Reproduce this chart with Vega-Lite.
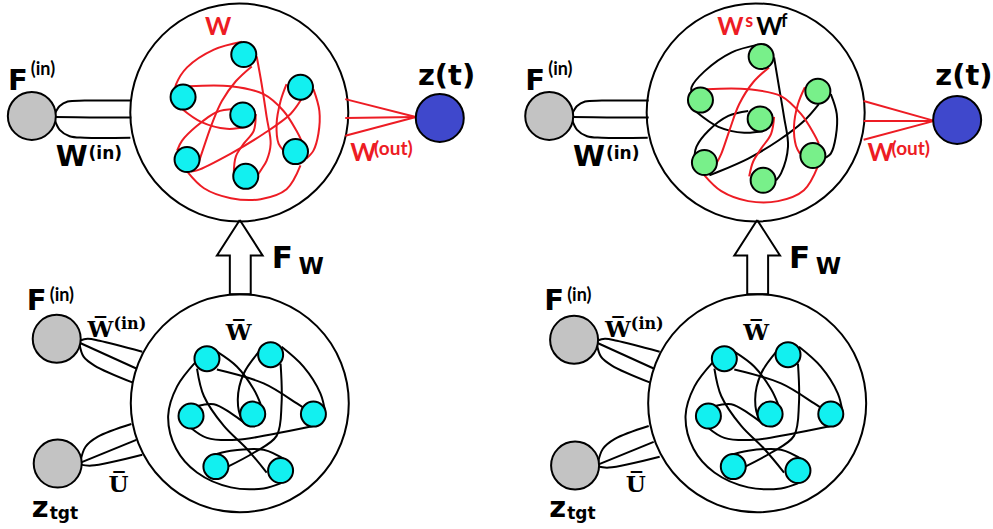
{
  "$schema": "https://vega.github.io/schema/vega-lite/v6.json",
  "width": 993,
  "height": 529,
  "padding": 0,
  "autosize": {"type": "fit", "contains": "padding"},
  "background": "white",
  "config": {"view": {"stroke": null}},
  "datasets": {
    "rings": [
      {"x": 240.5, "y": 108.5}, {"x": 241, "y": 402},
      {"x": 759.5, "y": 108.5}, {"x": 761, "y": 402}
    ],
    "nodes": [
      {"x": 245, "y": 50, "t": "cyan"}, {"x": 302, "y": 83, "t": "cyan"}, {"x": 184, "y": 93, "t": "cyan"}, {"x": 244, "y": 111, "t": "cyan"}, {"x": 188, "y": 156, "t": "cyan"}, {"x": 297, "y": 148, "t": "cyan"}, {"x": 247, "y": 173, "t": "cyan"},
      {"x": 765, "y": 52, "t": "green"}, {"x": 822, "y": 87, "t": "green"}, {"x": 704, "y": 96, "t": "green"}, {"x": 764, "y": 115, "t": "green"}, {"x": 708, "y": 159, "t": "green"}, {"x": 817, "y": 152, "t": "green"}, {"x": 767, "y": 177, "t": "green"},
      {"x": 208, "y": 357, "t": "cyan"}, {"x": 272, "y": 353, "t": "cyan"}, {"x": 192, "y": 415, "t": "cyan"}, {"x": 254, "y": 413, "t": "cyan"}, {"x": 315, "y": 413, "t": "cyan"}, {"x": 217, "y": 466, "t": "cyan"}, {"x": 282, "y": 470, "t": "cyan"},
      {"x": 728, "y": 357, "t": "cyan"}, {"x": 792, "y": 353, "t": "cyan"}, {"x": 712, "y": 415, "t": "cyan"}, {"x": 774, "y": 413, "t": "cyan"}, {"x": 835, "y": 413, "t": "cyan"}, {"x": 737, "y": 466, "t": "cyan"}, {"x": 802, "y": 470, "t": "cyan"}
    ],
    "io": [
      {"x": 32, "y": 112, "t": "gray"}, {"x": 552, "y": 112, "t": "gray"},
      {"x": 57, "y": 337, "t": "gray"}, {"x": 577, "y": 338, "t": "gray"},
      {"x": 58, "y": 463, "t": "gray"}, {"x": 578, "y": 465, "t": "gray"},
      {"x": 442, "y": 114, "t": "blue"}, {"x": 962, "y": 116, "t": "blue"}
    ],
    "curves": [
      {"g": "e1", "i": 0, "x": 243, "y": 37, "t": "r"}, {"g": "e1", "i": 1, "x": 215, "y": 45, "t": "r"}, {"g": "e1", "i": 2, "x": 188, "y": 63, "t": "r"}, {"g": "e1", "i": 3, "x": 177, "y": 80, "t": "r"}, {"g": "e1", "i": 4, "x": 176, "y": 85, "t": "r"},
      {"g": "e2", "i": 0, "x": 253, "y": 62, "t": "r"}, {"g": "e2", "i": 1, "x": 237, "y": 77, "t": "r"}, {"g": "e2", "i": 2, "x": 223, "y": 97, "t": "r"}, {"g": "e2", "i": 3, "x": 213, "y": 120, "t": "r"}, {"g": "e2", "i": 4, "x": 205, "y": 143, "t": "r"}, {"g": "e2", "i": 5, "x": 200, "y": 158, "t": "r"},
      {"g": "e3", "i": 0, "x": 258, "y": 52, "t": "r"}, {"g": "e3", "i": 1, "x": 263, "y": 80, "t": "r"}, {"g": "e3", "i": 2, "x": 268, "y": 113, "t": "r"}, {"g": "e3", "i": 3, "x": 272, "y": 140, "t": "r"}, {"g": "e3", "i": 4, "x": 268, "y": 157, "t": "r"}, {"g": "e3", "i": 5, "x": 262, "y": 167, "t": "r"}, {"g": "e3", "i": 6, "x": 258, "y": 173, "t": "r"},
      {"g": "e4", "i": 0, "x": 190, "y": 82, "t": "r"}, {"g": "e4", "i": 1, "x": 232, "y": 82, "t": "r"}, {"g": "e4", "i": 2, "x": 265, "y": 90, "t": "r"}, {"g": "e4", "i": 3, "x": 285, "y": 107, "t": "r"}, {"g": "e4", "i": 4, "x": 298, "y": 127, "t": "r"}, {"g": "e4", "i": 5, "x": 303, "y": 137, "t": "r"},
      {"g": "e5", "i": 0, "x": 183, "y": 105, "t": "r"}, {"g": "e5", "i": 1, "x": 202, "y": 118, "t": "r"}, {"g": "e5", "i": 2, "x": 228, "y": 125, "t": "r"}, {"g": "e5", "i": 3, "x": 248, "y": 123, "t": "r"},
      {"g": "e6", "i": 0, "x": 235, "y": 105, "t": "r"}, {"g": "e6", "i": 1, "x": 218, "y": 108, "t": "r"}, {"g": "e6", "i": 2, "x": 198, "y": 122, "t": "r"}, {"g": "e6", "i": 3, "x": 183, "y": 137, "t": "r"}, {"g": "e6", "i": 4, "x": 178, "y": 147, "t": "r"},
      {"g": "e7", "i": 0, "x": 257, "y": 110, "t": "r"}, {"g": "e7", "i": 1, "x": 255, "y": 127, "t": "r"}, {"g": "e7", "i": 2, "x": 245, "y": 140, "t": "r"}, {"g": "e7", "i": 3, "x": 237, "y": 153, "t": "r"}, {"g": "e7", "i": 4, "x": 235, "y": 170, "t": "r"},
      {"g": "e8", "i": 0, "x": 303, "y": 95, "t": "r"}, {"g": "e8", "i": 1, "x": 292, "y": 110, "t": "r"}, {"g": "e8", "i": 2, "x": 265, "y": 130, "t": "r"}, {"g": "e8", "i": 3, "x": 232, "y": 150, "t": "r"}, {"g": "e8", "i": 4, "x": 198, "y": 167, "t": "r"}, {"g": "e8", "i": 5, "x": 192, "y": 168, "t": "r"},
      {"g": "e9", "i": 0, "x": 288, "y": 80, "t": "r"}, {"g": "e9", "i": 1, "x": 282, "y": 97, "t": "r"}, {"g": "e9", "i": 2, "x": 278, "y": 120, "t": "r"}, {"g": "e9", "i": 3, "x": 280, "y": 140, "t": "r"}, {"g": "e9", "i": 4, "x": 285, "y": 147, "t": "r"},
      {"g": "e10", "i": 0, "x": 315, "y": 85, "t": "r"}, {"g": "e10", "i": 1, "x": 321, "y": 107, "t": "r"}, {"g": "e10", "i": 2, "x": 320, "y": 130, "t": "r"}, {"g": "e10", "i": 3, "x": 315, "y": 147, "t": "r"}, {"g": "e10", "i": 4, "x": 308, "y": 155, "t": "r"},
      {"g": "e11", "i": 0, "x": 188, "y": 168, "t": "r"}, {"g": "e11", "i": 1, "x": 205, "y": 185, "t": "r"}, {"g": "e11", "i": 2, "x": 232, "y": 195, "t": "r"}, {"g": "e11", "i": 3, "x": 262, "y": 196, "t": "r"}, {"g": "e11", "i": 4, "x": 288, "y": 186, "t": "r"}, {"g": "e11", "i": 5, "x": 302, "y": 162, "t": "r"},

      {"g": "ra", "i": 0, "x": 762, "y": 40, "t": "k"}, {"g": "ra", "i": 1, "x": 735, "y": 48, "t": "k"}, {"g": "ra", "i": 2, "x": 708, "y": 67, "t": "k"}, {"g": "ra", "i": 3, "x": 695, "y": 83, "t": "k"}, {"g": "ra", "i": 4, "x": 695, "y": 88, "t": "k"},
      {"g": "rb", "i": 0, "x": 778, "y": 53, "t": "k"}, {"g": "rb", "i": 1, "x": 783, "y": 83, "t": "k"}, {"g": "rb", "i": 2, "x": 788, "y": 113, "t": "k"}, {"g": "rb", "i": 3, "x": 792, "y": 143, "t": "k"}, {"g": "rb", "i": 4, "x": 785, "y": 170, "t": "k"}, {"g": "rb", "i": 5, "x": 780, "y": 177, "t": "k"},
      {"g": "rc", "i": 0, "x": 700, "y": 108, "t": "k"}, {"g": "rc", "i": 1, "x": 722, "y": 123, "t": "k"}, {"g": "rc", "i": 2, "x": 748, "y": 129, "t": "k"}, {"g": "rc", "i": 3, "x": 768, "y": 127, "t": "k"},
      {"g": "rd", "i": 0, "x": 752, "y": 107, "t": "k"}, {"g": "rd", "i": 1, "x": 732, "y": 112, "t": "k"}, {"g": "rd", "i": 2, "x": 712, "y": 127, "t": "k"}, {"g": "rd", "i": 3, "x": 700, "y": 143, "t": "k"}, {"g": "rd", "i": 4, "x": 698, "y": 152, "t": "k"},
      {"g": "re", "i": 0, "x": 823, "y": 100, "t": "k"}, {"g": "re", "i": 1, "x": 808, "y": 117, "t": "k"}, {"g": "re", "i": 2, "x": 782, "y": 137, "t": "k"}, {"g": "re", "i": 3, "x": 752, "y": 155, "t": "k"}, {"g": "re", "i": 4, "x": 718, "y": 170, "t": "k"}, {"g": "re", "i": 5, "x": 713, "y": 172, "t": "k"},
      {"g": "rf", "i": 0, "x": 835, "y": 90, "t": "k"}, {"g": "rf", "i": 1, "x": 841, "y": 110, "t": "k"}, {"g": "rf", "i": 2, "x": 840, "y": 133, "t": "k"}, {"g": "rf", "i": 3, "x": 835, "y": 150, "t": "k"}, {"g": "rf", "i": 4, "x": 830, "y": 154, "t": "k"},
      {"g": "rg", "i": 0, "x": 773, "y": 63, "t": "r"}, {"g": "rg", "i": 1, "x": 757, "y": 78, "t": "r"}, {"g": "rg", "i": 2, "x": 743, "y": 100, "t": "r"}, {"g": "rg", "i": 3, "x": 733, "y": 127, "t": "r"}, {"g": "rg", "i": 4, "x": 725, "y": 150, "t": "r"}, {"g": "rg", "i": 5, "x": 720, "y": 160, "t": "r"},
      {"g": "rh", "i": 0, "x": 710, "y": 85, "t": "r"}, {"g": "rh", "i": 1, "x": 752, "y": 85, "t": "r"}, {"g": "rh", "i": 2, "x": 785, "y": 92, "t": "r"}, {"g": "rh", "i": 3, "x": 805, "y": 110, "t": "r"}, {"g": "rh", "i": 4, "x": 818, "y": 130, "t": "r"}, {"g": "rh", "i": 5, "x": 823, "y": 140, "t": "r"},
      {"g": "ri", "i": 0, "x": 778, "y": 113, "t": "r"}, {"g": "ri", "i": 1, "x": 775, "y": 130, "t": "r"}, {"g": "ri", "i": 2, "x": 765, "y": 145, "t": "r"}, {"g": "ri", "i": 3, "x": 757, "y": 158, "t": "r"}, {"g": "ri", "i": 4, "x": 753, "y": 173, "t": "r"},
      {"g": "rj", "i": 0, "x": 809, "y": 83, "t": "r"}, {"g": "rj", "i": 1, "x": 802, "y": 100, "t": "r"}, {"g": "rj", "i": 2, "x": 798, "y": 123, "t": "r"}, {"g": "rj", "i": 3, "x": 800, "y": 142, "t": "r"}, {"g": "rj", "i": 4, "x": 804, "y": 150, "t": "r"},
      {"g": "rk", "i": 0, "x": 708, "y": 172, "t": "r"}, {"g": "rk", "i": 1, "x": 725, "y": 188, "t": "r"}, {"g": "rk", "i": 2, "x": 752, "y": 198, "t": "r"}, {"g": "rk", "i": 3, "x": 782, "y": 198, "t": "r"}, {"g": "rk", "i": 4, "x": 808, "y": 187, "t": "r"}, {"g": "rk", "i": 5, "x": 822, "y": 163, "t": "r"},

      {"g": "b1", "i": 0, "x": 197, "y": 360, "t": "k"}, {"g": "b1", "i": 1, "x": 178, "y": 385, "t": "k"}, {"g": "b1", "i": 2, "x": 169, "y": 415, "t": "k"}, {"g": "b1", "i": 3, "x": 177, "y": 448, "t": "k"}, {"g": "b1", "i": 4, "x": 198, "y": 472, "t": "k"}, {"g": "b1", "i": 5, "x": 232, "y": 487, "t": "k"}, {"g": "b1", "i": 6, "x": 265, "y": 488, "t": "k"}, {"g": "b1", "i": 7, "x": 282, "y": 483, "t": "k"},
      {"g": "b2", "i": 0, "x": 218, "y": 368, "t": "k"}, {"g": "b2", "i": 1, "x": 265, "y": 382, "t": "k"}, {"g": "b2", "i": 2, "x": 298, "y": 402, "t": "k"}, {"g": "b2", "i": 3, "x": 307, "y": 408, "t": "k"},
      {"g": "b3", "i": 0, "x": 198, "y": 367, "t": "k"}, {"g": "b3", "i": 1, "x": 205, "y": 395, "t": "k"}, {"g": "b3", "i": 2, "x": 225, "y": 425, "t": "k"}, {"g": "b3", "i": 3, "x": 248, "y": 448, "t": "k"}, {"g": "b3", "i": 4, "x": 268, "y": 472, "t": "k"},
      {"g": "b4", "i": 0, "x": 218, "y": 350, "t": "k"}, {"g": "b4", "i": 1, "x": 238, "y": 365, "t": "k"}, {"g": "b4", "i": 2, "x": 255, "y": 388, "t": "k"}, {"g": "b4", "i": 3, "x": 262, "y": 403, "t": "k"},
      {"g": "b5", "i": 0, "x": 262, "y": 348, "t": "k"}, {"g": "b5", "i": 1, "x": 245, "y": 372, "t": "k"}, {"g": "b5", "i": 2, "x": 239, "y": 398, "t": "k"}, {"g": "b5", "i": 3, "x": 243, "y": 418, "t": "k"}, {"g": "b5", "i": 4, "x": 248, "y": 423, "t": "k"},
      {"g": "b6", "i": 0, "x": 283, "y": 345, "t": "k"}, {"g": "b6", "i": 1, "x": 305, "y": 365, "t": "k"}, {"g": "b6", "i": 2, "x": 322, "y": 392, "t": "k"}, {"g": "b6", "i": 3, "x": 327, "y": 412, "t": "k"},
      {"g": "b7", "i": 0, "x": 282, "y": 362, "t": "k"}, {"g": "b7", "i": 1, "x": 283, "y": 402, "t": "k"}, {"g": "b7", "i": 2, "x": 278, "y": 435, "t": "k"}, {"g": "b7", "i": 3, "x": 255, "y": 452, "t": "k"}, {"g": "b7", "i": 4, "x": 227, "y": 467, "t": "k"},
      {"g": "b8", "i": 0, "x": 198, "y": 405, "t": "k"}, {"g": "b8", "i": 1, "x": 215, "y": 403, "t": "k"}, {"g": "b8", "i": 2, "x": 232, "y": 412, "t": "k"}, {"g": "b8", "i": 3, "x": 247, "y": 423, "t": "k"},
      {"g": "b9", "i": 0, "x": 192, "y": 427, "t": "k"}, {"g": "b9", "i": 1, "x": 208, "y": 437, "t": "k"}, {"g": "b9", "i": 2, "x": 238, "y": 439, "t": "k"}, {"g": "b9", "i": 3, "x": 275, "y": 433, "t": "k"}, {"g": "b9", "i": 4, "x": 315, "y": 425, "t": "k"},
      {"g": "b10", "i": 0, "x": 212, "y": 455, "t": "k"}, {"g": "b10", "i": 1, "x": 232, "y": 450, "t": "k"}, {"g": "b10", "i": 2, "x": 265, "y": 449, "t": "k"}, {"g": "b10", "i": 3, "x": 288, "y": 460, "t": "k"},

      {"g": "q1", "i": 0, "x": 717, "y": 360, "t": "k"}, {"g": "q1", "i": 1, "x": 698, "y": 385, "t": "k"}, {"g": "q1", "i": 2, "x": 689, "y": 415, "t": "k"}, {"g": "q1", "i": 3, "x": 697, "y": 448, "t": "k"}, {"g": "q1", "i": 4, "x": 718, "y": 472, "t": "k"}, {"g": "q1", "i": 5, "x": 752, "y": 487, "t": "k"}, {"g": "q1", "i": 6, "x": 785, "y": 488, "t": "k"}, {"g": "q1", "i": 7, "x": 802, "y": 483, "t": "k"},
      {"g": "q2", "i": 0, "x": 738, "y": 368, "t": "k"}, {"g": "q2", "i": 1, "x": 785, "y": 382, "t": "k"}, {"g": "q2", "i": 2, "x": 818, "y": 402, "t": "k"}, {"g": "q2", "i": 3, "x": 827, "y": 408, "t": "k"},
      {"g": "q3", "i": 0, "x": 718, "y": 367, "t": "k"}, {"g": "q3", "i": 1, "x": 725, "y": 395, "t": "k"}, {"g": "q3", "i": 2, "x": 745, "y": 425, "t": "k"}, {"g": "q3", "i": 3, "x": 768, "y": 448, "t": "k"}, {"g": "q3", "i": 4, "x": 788, "y": 472, "t": "k"},
      {"g": "q4", "i": 0, "x": 738, "y": 350, "t": "k"}, {"g": "q4", "i": 1, "x": 758, "y": 365, "t": "k"}, {"g": "q4", "i": 2, "x": 775, "y": 388, "t": "k"}, {"g": "q4", "i": 3, "x": 782, "y": 403, "t": "k"},
      {"g": "q5", "i": 0, "x": 782, "y": 348, "t": "k"}, {"g": "q5", "i": 1, "x": 765, "y": 372, "t": "k"}, {"g": "q5", "i": 2, "x": 759, "y": 398, "t": "k"}, {"g": "q5", "i": 3, "x": 763, "y": 418, "t": "k"}, {"g": "q5", "i": 4, "x": 768, "y": 423, "t": "k"},
      {"g": "q6", "i": 0, "x": 803, "y": 345, "t": "k"}, {"g": "q6", "i": 1, "x": 825, "y": 365, "t": "k"}, {"g": "q6", "i": 2, "x": 842, "y": 392, "t": "k"}, {"g": "q6", "i": 3, "x": 847, "y": 412, "t": "k"},
      {"g": "q7", "i": 0, "x": 802, "y": 362, "t": "k"}, {"g": "q7", "i": 1, "x": 803, "y": 402, "t": "k"}, {"g": "q7", "i": 2, "x": 798, "y": 435, "t": "k"}, {"g": "q7", "i": 3, "x": 775, "y": 452, "t": "k"}, {"g": "q7", "i": 4, "x": 747, "y": 467, "t": "k"},
      {"g": "q8", "i": 0, "x": 718, "y": 405, "t": "k"}, {"g": "q8", "i": 1, "x": 735, "y": 403, "t": "k"}, {"g": "q8", "i": 2, "x": 752, "y": 412, "t": "k"}, {"g": "q8", "i": 3, "x": 767, "y": 423, "t": "k"},
      {"g": "q9", "i": 0, "x": 712, "y": 427, "t": "k"}, {"g": "q9", "i": 1, "x": 728, "y": 437, "t": "k"}, {"g": "q9", "i": 2, "x": 758, "y": 439, "t": "k"}, {"g": "q9", "i": 3, "x": 795, "y": 433, "t": "k"}, {"g": "q9", "i": 4, "x": 835, "y": 425, "t": "k"},
      {"g": "q10", "i": 0, "x": 732, "y": 455, "t": "k"}, {"g": "q10", "i": 1, "x": 752, "y": 450, "t": "k"}, {"g": "q10", "i": 2, "x": 785, "y": 449, "t": "k"}, {"g": "q10", "i": 3, "x": 808, "y": 460, "t": "k"},

      {"g": "c1", "i": 0, "x": 55, "y": 110, "t": "k"}, {"g": "c1", "i": 1, "x": 60, "y": 102, "t": "k"}, {"g": "c1", "i": 2, "x": 68, "y": 97.5, "t": "k"}, {"g": "c1", "i": 3, "x": 85, "y": 96.5, "t": "k"}, {"g": "c1", "i": 4, "x": 132, "y": 96.5, "t": "k"},
      {"g": "c2", "i": 0, "x": 55, "y": 113, "t": "k"}, {"g": "c2", "i": 1, "x": 90, "y": 113.5, "t": "k"}, {"g": "c2", "i": 2, "x": 132, "y": 113.5, "t": "k"},
      {"g": "c3", "i": 0, "x": 55, "y": 116, "t": "k"}, {"g": "c3", "i": 1, "x": 60, "y": 126, "t": "k"}, {"g": "c3", "i": 2, "x": 70, "y": 132.5, "t": "k"}, {"g": "c3", "i": 3, "x": 85, "y": 134, "t": "k"}, {"g": "c3", "i": 4, "x": 131, "y": 134, "t": "k"},
      {"g": "c4", "i": 0, "x": 80, "y": 339, "t": "k"}, {"g": "c4", "i": 1, "x": 88, "y": 337, "t": "k"}, {"g": "c4", "i": 2, "x": 100, "y": 339, "t": "k"}, {"g": "c4", "i": 3, "x": 143, "y": 350, "t": "k"},
      {"g": "c5", "i": 0, "x": 80, "y": 341, "t": "k"}, {"g": "c5", "i": 1, "x": 137, "y": 367, "t": "k"},
      {"g": "c6", "i": 0, "x": 80, "y": 343, "t": "k"}, {"g": "c6", "i": 1, "x": 84, "y": 355, "t": "k"}, {"g": "c6", "i": 2, "x": 95, "y": 364, "t": "k"}, {"g": "c6", "i": 3, "x": 133, "y": 381, "t": "k"},
      {"g": "c7", "i": 0, "x": 81, "y": 460, "t": "k"}, {"g": "c7", "i": 1, "x": 86, "y": 446, "t": "k"}, {"g": "c7", "i": 2, "x": 98, "y": 436, "t": "k"}, {"g": "c7", "i": 3, "x": 132, "y": 423, "t": "k"},
      {"g": "c8", "i": 0, "x": 81, "y": 462, "t": "k"}, {"g": "c8", "i": 1, "x": 137, "y": 439, "t": "k"},
      {"g": "c9", "i": 0, "x": 81, "y": 464, "t": "k"}, {"g": "c9", "i": 1, "x": 92, "y": 465, "t": "k"}, {"g": "c9", "i": 2, "x": 143, "y": 454, "t": "k"},
      {"g": "d1", "i": 0, "x": 575, "y": 110, "t": "k"}, {"g": "d1", "i": 1, "x": 580, "y": 102, "t": "k"}, {"g": "d1", "i": 2, "x": 588, "y": 97.5, "t": "k"}, {"g": "d1", "i": 3, "x": 605, "y": 96.5, "t": "k"}, {"g": "d1", "i": 4, "x": 652, "y": 96.5, "t": "k"},
      {"g": "d2", "i": 0, "x": 575, "y": 113, "t": "k"}, {"g": "d2", "i": 1, "x": 610, "y": 113.5, "t": "k"}, {"g": "d2", "i": 2, "x": 652, "y": 113.5, "t": "k"},
      {"g": "d3", "i": 0, "x": 575, "y": 116, "t": "k"}, {"g": "d3", "i": 1, "x": 580, "y": 126, "t": "k"}, {"g": "d3", "i": 2, "x": 590, "y": 132.5, "t": "k"}, {"g": "d3", "i": 3, "x": 605, "y": 134, "t": "k"}, {"g": "d3", "i": 4, "x": 651, "y": 134, "t": "k"},
      {"g": "d4", "i": 0, "x": 600, "y": 339, "t": "k"}, {"g": "d4", "i": 1, "x": 608, "y": 337, "t": "k"}, {"g": "d4", "i": 2, "x": 620, "y": 339, "t": "k"}, {"g": "d4", "i": 3, "x": 663, "y": 350, "t": "k"},
      {"g": "d5", "i": 0, "x": 600, "y": 341, "t": "k"}, {"g": "d5", "i": 1, "x": 657, "y": 367, "t": "k"},
      {"g": "d6", "i": 0, "x": 600, "y": 343, "t": "k"}, {"g": "d6", "i": 1, "x": 604, "y": 355, "t": "k"}, {"g": "d6", "i": 2, "x": 615, "y": 364, "t": "k"}, {"g": "d6", "i": 3, "x": 653, "y": 381, "t": "k"},
      {"g": "d7", "i": 0, "x": 601, "y": 462, "t": "k"}, {"g": "d7", "i": 1, "x": 606, "y": 448, "t": "k"}, {"g": "d7", "i": 2, "x": 618, "y": 438, "t": "k"}, {"g": "d7", "i": 3, "x": 652, "y": 425, "t": "k"},
      {"g": "d8", "i": 0, "x": 601, "y": 464, "t": "k"}, {"g": "d8", "i": 1, "x": 657, "y": 441, "t": "k"},
      {"g": "d9", "i": 0, "x": 601, "y": 466, "t": "k"}, {"g": "d9", "i": 1, "x": 612, "y": 467, "t": "k"}, {"g": "d9", "i": 2, "x": 663, "y": 456, "t": "k"}
    ],
    "straight": [
      {"g": "w1", "i": 0, "x": 347, "y": 95, "t": "r"}, {"g": "w1", "i": 1, "x": 418, "y": 113, "t": "r"},
      {"g": "w2", "i": 0, "x": 347, "y": 114, "t": "r"}, {"g": "w2", "i": 1, "x": 418, "y": 113, "t": "r"},
      {"g": "w3", "i": 0, "x": 347, "y": 132, "t": "r"}, {"g": "w3", "i": 1, "x": 418, "y": 113, "t": "r"},
      {"g": "v1", "i": 0, "x": 868, "y": 97, "t": "r"}, {"g": "v1", "i": 1, "x": 939, "y": 117, "t": "r"},
      {"g": "v2", "i": 0, "x": 868, "y": 117, "t": "r"}, {"g": "v2", "i": 1, "x": 939, "y": 117, "t": "r"},
      {"g": "v3", "i": 0, "x": 868, "y": 136, "t": "r"}, {"g": "v3", "i": 1, "x": 939, "y": 117, "t": "r"},
      {"g": "a1", "i": 0, "x": 241, "y": 217, "t": "k"}, {"g": "a1", "i": 1, "x": 264, "y": 253, "t": "k"}, {"g": "a1", "i": 2, "x": 252, "y": 253, "t": "k"}, {"g": "a1", "i": 3, "x": 252, "y": 292, "t": "k"}, {"g": "a1", "i": 4, "x": 231, "y": 292, "t": "k"}, {"g": "a1", "i": 5, "x": 231, "y": 253, "t": "k"}, {"g": "a1", "i": 6, "x": 218, "y": 253, "t": "k"}, {"g": "a1", "i": 7, "x": 241, "y": 217, "t": "k"},
      {"g": "a2", "i": 0, "x": 761, "y": 217, "t": "k"}, {"g": "a2", "i": 1, "x": 784, "y": 253, "t": "k"}, {"g": "a2", "i": 2, "x": 772, "y": 253, "t": "k"}, {"g": "a2", "i": 3, "x": 772, "y": 292, "t": "k"}, {"g": "a2", "i": 4, "x": 751, "y": 292, "t": "k"}, {"g": "a2", "i": 5, "x": 751, "y": 253, "t": "k"}, {"g": "a2", "i": 6, "x": 738, "y": 253, "t": "k"}, {"g": "a2", "i": 7, "x": 761, "y": 217, "t": "k"}
    ],
    "texts": [
      {"x": 8, "y": 86, "s": "F", "role": "big", "t": "k"}, {"x": 528, "y": 86, "s": "F", "role": "big", "t": "k"},
      {"x": 56, "y": 163, "s": "W", "role": "big", "t": "k"}, {"x": 576, "y": 163, "s": "W", "role": "big", "t": "k"},
      {"x": 420, "y": 81, "s": "z(t)", "role": "big", "t": "k"}, {"x": 940, "y": 81, "s": "z(t)", "role": "big", "t": "k"},
      {"x": 27, "y": 308, "s": "F", "role": "big", "t": "k"}, {"x": 547, "y": 308, "s": "F", "role": "big", "t": "k"},
      {"x": 32, "y": 517, "s": "z", "role": "big", "t": "k"}, {"x": 552, "y": 517, "s": "z", "role": "big", "t": "k"},
      {"x": 273, "y": 266, "s": "F", "role": "fw", "t": "k"}, {"x": 793, "y": 266, "s": "F", "role": "fw", "t": "k"},
      {"x": 206, "y": 30, "s": "W", "role": "mid", "t": "r"},
      {"x": 352, "y": 157, "s": "W", "role": "mid", "t": "r"}, {"x": 872, "y": 157, "s": "W", "role": "mid", "t": "r"},
      {"x": 721, "y": 30, "s": "W", "role": "mid", "t": "r"}, {"x": 760, "y": 30, "s": "W", "role": "mid", "t": "k"},
      {"x": 31, "y": 71, "s": "(in)", "role": "sup", "t": "k"}, {"x": 551, "y": 71, "s": "(in)", "role": "sup", "t": "k"},
      {"x": 50, "y": 299, "s": "(in)", "role": "sup", "t": "k"}, {"x": 570, "y": 299, "s": "(in)", "role": "sup", "t": "k"},
      {"x": 749, "y": 22, "s": "s", "role": "sup", "t": "r"}, {"x": 785, "y": 22, "s": "f", "role": "sup", "t": "k"},
      {"x": 89, "y": 155, "s": "(in)", "role": "sup2", "t": "k"}, {"x": 609, "y": 155, "s": "(in)", "role": "sup2", "t": "k"},
      {"x": 50, "y": 519, "s": "tgt", "role": "sup2", "t": "k"}, {"x": 570, "y": 519, "s": "tgt", "role": "sup2", "t": "k"},
      {"x": 376, "y": 151, "s": "(out)", "role": "out", "t": "r"}, {"x": 896, "y": 151, "s": "(out)", "role": "out", "t": "r"},
      {"x": 300, "y": 272, "s": "W", "role": "sub", "t": "k"}, {"x": 820, "y": 272, "s": "W", "role": "sub", "t": "k"},
      {"x": 227, "y": 338, "s": "W̅", "role": "serif", "t": "k"}, {"x": 747, "y": 338, "s": "W̅", "role": "serif", "t": "k"},
      {"x": 88, "y": 335, "s": "W̅", "role": "serif", "t": "k"}, {"x": 608, "y": 335, "s": "W̅", "role": "serif", "t": "k"},
      {"x": 109, "y": 492, "s": "U̅", "role": "serif", "t": "k"}, {"x": 629, "y": 492, "s": "U̅", "role": "serif", "t": "k"},
      {"x": 114, "y": 327, "s": "(in)", "role": "serifsup", "t": "k"}, {"x": 634, "y": 327, "s": "(in)", "role": "serifsup", "t": "k"}
    ]
  },
  "encoding": {
    "x": {"field": "x", "type": "quantitative", "scale": {"domain": [0, 993], "nice": false, "zero": false}, "axis": null},
    "y": {"field": "y", "type": "quantitative", "scale": {"domain": [0, 529], "nice": false, "zero": false, "reverse": true}, "axis": null}
  },
  "layer": [
    {
      "data": {"name": "rings"},
      "mark": {"type": "point", "shape": "circle", "filled": false, "size": 47524, "stroke": "#000000", "strokeWidth": 2, "opacity": 1}
    },
    {
      "data": {"name": "curves"},
      "mark": {"type": "line", "interpolate": "catmull-rom", "strokeWidth": 2},
      "encoding": {
        "detail": {"field": "g"},
        "order": {"field": "i", "type": "quantitative"},
        "color": {"field": "t", "type": "nominal", "scale": {"domain": ["k", "r"], "range": ["#000000", "#ED1C24"]}, "legend": null}
      }
    },
    {
      "data": {"name": "straight"},
      "mark": {"type": "line", "interpolate": "linear", "strokeWidth": 2},
      "encoding": {
        "detail": {"field": "g"},
        "order": {"field": "i", "type": "quantitative"},
        "color": {"field": "t", "type": "nominal", "scale": {"domain": ["k", "r"], "range": ["#000000", "#ED1C24"]}, "legend": null}
      }
    },
    {
      "data": {"name": "nodes"},
      "mark": {"type": "point", "shape": "circle", "filled": true, "size": 625, "stroke": "#000000", "strokeWidth": 2, "opacity": 1},
      "encoding": {
        "fill": {"field": "t", "type": "nominal", "scale": {"domain": ["cyan", "green", "gray", "blue"], "range": ["#12F0F0", "#78F08A", "#C3C3C3", "#3F48CC"]}, "legend": null}
      }
    },
    {
      "data": {"name": "io"},
      "mark": {"type": "point", "shape": "circle", "filled": true, "size": 2304, "stroke": "#000000", "strokeWidth": 2, "opacity": 1},
      "encoding": {
        "fill": {"field": "t", "type": "nominal", "scale": {"domain": ["cyan", "green", "gray", "blue"], "range": ["#12F0F0", "#78F08A", "#C3C3C3", "#3F48CC"]}, "legend": null}
      }
    },
    {
      "data": {"name": "texts"},
      "transform": [{"filter": "datum.role === 'big'"}],
      "mark": {"type": "text", "align": "left", "baseline": "alphabetic", "font": "DejaVu Sans", "fontWeight": "bold", "fontSize": 29},
      "encoding": {
        "text": {"field": "s"},
        "color": {"field": "t", "type": "nominal", "scale": {"domain": ["k", "r"], "range": ["#000000", "#ED1C24"]}, "legend": null}
      }
    },
    {
      "data": {"name": "texts"},
      "transform": [{"filter": "datum.role === 'fw'"}],
      "mark": {"type": "text", "align": "left", "baseline": "alphabetic", "font": "DejaVu Sans", "fontWeight": "bold", "fontSize": 31},
      "encoding": {
        "text": {"field": "s"},
        "color": {"field": "t", "type": "nominal", "scale": {"domain": ["k", "r"], "range": ["#000000", "#ED1C24"]}, "legend": null}
      }
    },
    {
      "data": {"name": "texts"},
      "transform": [{"filter": "datum.role === 'mid'"}],
      "mark": {"type": "text", "align": "left", "baseline": "alphabetic", "font": "Lato", "fontWeight": "bold", "fontSize": 25},
      "encoding": {
        "text": {"field": "s"},
        "color": {"field": "t", "type": "nominal", "scale": {"domain": ["k", "r"], "range": ["#000000", "#ED1C24"]}, "legend": null}
      }
    },
    {
      "data": {"name": "texts"},
      "transform": [{"filter": "datum.role === 'sup'"}],
      "mark": {"type": "text", "align": "left", "baseline": "alphabetic", "font": "Lato", "fontWeight": "bold", "fontSize": 18},
      "encoding": {
        "text": {"field": "s"},
        "color": {"field": "t", "type": "nominal", "scale": {"domain": ["k", "r"], "range": ["#000000", "#ED1C24"]}, "legend": null}
      }
    },
    {
      "data": {"name": "texts"},
      "transform": [{"filter": "datum.role === 'sup2'"}],
      "mark": {"type": "text", "align": "left", "baseline": "alphabetic", "font": "DejaVu Sans", "fontWeight": "bold", "fontSize": 17},
      "encoding": {
        "text": {"field": "s"},
        "color": {"field": "t", "type": "nominal", "scale": {"domain": ["k", "r"], "range": ["#000000", "#ED1C24"]}, "legend": null}
      }
    },
    {
      "data": {"name": "texts"},
      "transform": [{"filter": "datum.role === 'out'"}],
      "mark": {"type": "text", "align": "left", "baseline": "alphabetic", "font": "Lato", "fontWeight": "bold", "fontSize": 19},
      "encoding": {
        "text": {"field": "s"},
        "color": {"field": "t", "type": "nominal", "scale": {"domain": ["k", "r"], "range": ["#000000", "#ED1C24"]}, "legend": null}
      }
    },
    {
      "data": {"name": "texts"},
      "transform": [{"filter": "datum.role === 'sub'"}],
      "mark": {"type": "text", "align": "left", "baseline": "alphabetic", "font": "DejaVu Sans", "fontWeight": "bold", "fontSize": 23},
      "encoding": {
        "text": {"field": "s"},
        "color": {"field": "t", "type": "nominal", "scale": {"domain": ["k", "r"], "range": ["#000000", "#ED1C24"]}, "legend": null}
      }
    },
    {
      "data": {"name": "texts"},
      "transform": [{"filter": "datum.role === 'serif'"}],
      "mark": {"type": "text", "align": "left", "baseline": "alphabetic", "font": "DejaVu Serif", "fontWeight": "bold", "fontSize": 23},
      "encoding": {
        "text": {"field": "s"},
        "color": {"field": "t", "type": "nominal", "scale": {"domain": ["k", "r"], "range": ["#000000", "#ED1C24"]}, "legend": null}
      }
    },
    {
      "data": {"name": "texts"},
      "transform": [{"filter": "datum.role === 'serifsup'"}],
      "mark": {"type": "text", "align": "left", "baseline": "alphabetic", "font": "DejaVu Serif", "fontWeight": "bold", "fontSize": 16},
      "encoding": {
        "text": {"field": "s"},
        "color": {"field": "t", "type": "nominal", "scale": {"domain": ["k", "r"], "range": ["#000000", "#ED1C24"]}, "legend": null}
      }
    }
  ]
}
